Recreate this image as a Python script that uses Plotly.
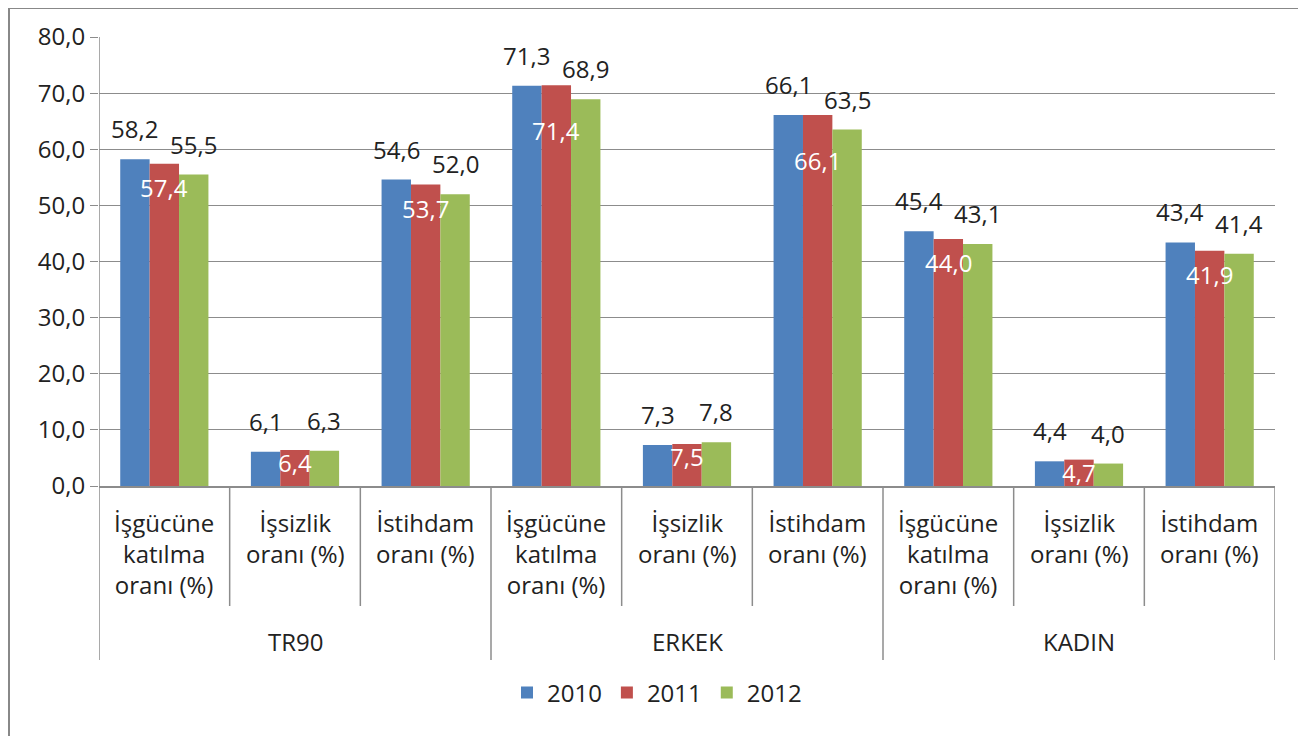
import plotly.graph_objects as go

# --- data ---------------------------------------------------------------
groups = ["TR90", "ERKEK", "KADIN"]
indicators = ["İşgücüne<br>katılma<br>oranı (%)", "İşsizlik<br>oranı (%)", "İstihdam<br>oranı (%)"]
years = ["2010", "2011", "2012"]
v2010 = [58.2, 6.1, 54.6, 71.3, 7.3, 66.1, 45.4, 4.4, 43.4]
v2011 = [57.4, 6.4, 53.7, 71.4, 7.5, 66.1, 44.0, 4.7, 41.9]
v2012 = [55.5, 6.3, 52.0, 68.9, 7.8, 63.5, 43.1, 4.0, 41.4]
series = [v2010, v2011, v2012]
y_ticks = [0, 10, 20, 30, 40, 50, 60, 70, 80]

COLORS = ["#4F81BD", "#C0504D", "#9BBB59"]
GRID = "#8C8C8C"
TXT = "#222222"
FONT = "Open Sans"
FS = 24

# page has an 8px body margin -> work in page pixels, convert to figure
OFF = 8
FIG_W, FIG_H = 1306 - OFF, 736 - OFF
L, R, T, B = 99, 1275, 37, 486          # plot area, page pixels
W_PX, H_PX = R - L, B - T
BARGAP = 0.325
BW = (1 - BARGAP) / 3


def py(p):  # page pixel y -> paper y
    return (B - p) / H_PX


def px(p):  # page pixel x -> paper x
    return (p - L) / W_PX


n = len(v2010)
xs = list(range(n))

fig = go.Figure()
for name, vals, col in zip(years, series, COLORS):
    fig.add_trace(go.Bar(x=xs, y=vals, name=name, marker=dict(color=col, line_width=0)))

fmt = lambda v: f"{v:.1f}".replace(".", ",")
ann = []
px_per_unit = H_PX / 80

# data labels: 2010 / 2012 above, 2011 inside (white)
for k, vals in enumerate(series):
    for i, v in enumerate(vals):
        xk = i + (k - 1) * BW
        if k == 1:
            if v * px_per_unit < 45:
                shift = 6
            elif v >= v2010[i]:
                shift = -27
            else:
                shift = -5
            ann.append(dict(x=xk, y=v, text=fmt(v), showarrow=False, yanchor="top",
                            yshift=shift, font=dict(family=FONT, size=FS, color="white")))
        else:
            ann.append(dict(x=xk, y=v, text=fmt(v), showarrow=False, yanchor="bottom",
                            yshift=12, font=dict(family=FONT, size=FS, color=TXT)))

# category labels (two levels)
for i in xs:
    ann.append(dict(x=i, y=py(504), xref="x", yref="paper", yanchor="top",
                    text=indicators[i % 3], showarrow=False,
                    font=dict(family=FONT, size=FS, color=TXT)))
for g, name in enumerate(groups):
    ann.append(dict(x=g * 3 + 1, y=py(641), xref="x", yref="paper", yanchor="middle",
                    text=name, showarrow=False, font=dict(family=FONT, size=FS, color=TXT)))

shapes = []
for j in range(n + 1):
    xb = j - 0.5
    outer = j % 3 == 0
    shapes.append(dict(type="line", xref="x", yref="paper", x0=xb, x1=xb,
                       y0=1 if j == 0 else 0, y1=py(660 if outer else 606),
                       line=dict(color=GRID, width=1.5)))

# outer chart border
shapes += [
    dict(type="line", xref="paper", yref="paper", x0=px(7), x1=px(1306), y0=py(7.5), y1=py(7.5),
         line=dict(color="#888888", width=3)),
    dict(type="line", xref="paper", yref="paper", x0=px(8.5), x1=px(8.5), y0=py(7), y1=py(740),
         line=dict(color="#888888", width=3)),
    dict(type="line", xref="paper", yref="paper", x0=px(1304.5), x1=px(1304.5), y0=py(7), y1=py(740),
         line=dict(color="#AAAAAA", width=1)),
]

fig.update_layout(
    width=FIG_W, height=FIG_H,
    margin=dict(l=L - OFF, r=1306 - R, t=T - OFF, b=736 - B),
    paper_bgcolor="white", plot_bgcolor="white",
    barmode="group", bargap=BARGAP, bargroupgap=0,
    separators=",.",
    font=dict(family=FONT, size=FS, color=TXT),
    annotations=ann, shapes=shapes,
    showlegend=True,
    legend=dict(orientation="h", x=px(657), xanchor="center", y=py(693), yanchor="middle",
                font=dict(family=FONT, size=FS, color=TXT), itemclick=False),
    xaxis=dict(range=[-0.5, n - 0.5], showticklabels=False, showgrid=False, zeroline=False,
               showline=True, linecolor=GRID, linewidth=1.5, fixedrange=True),
    yaxis=dict(range=[0, 80], tickvals=y_ticks, tickformat=".1f", showgrid=True,
               gridcolor=GRID, gridwidth=1.2, zeroline=False, ticks="outside", ticklen=8,
               tickcolor=GRID, showline=False, fixedrange=True,
               tickfont=dict(family=FONT, size=FS, color=TXT)),
)

fig.write_html("out.html")
